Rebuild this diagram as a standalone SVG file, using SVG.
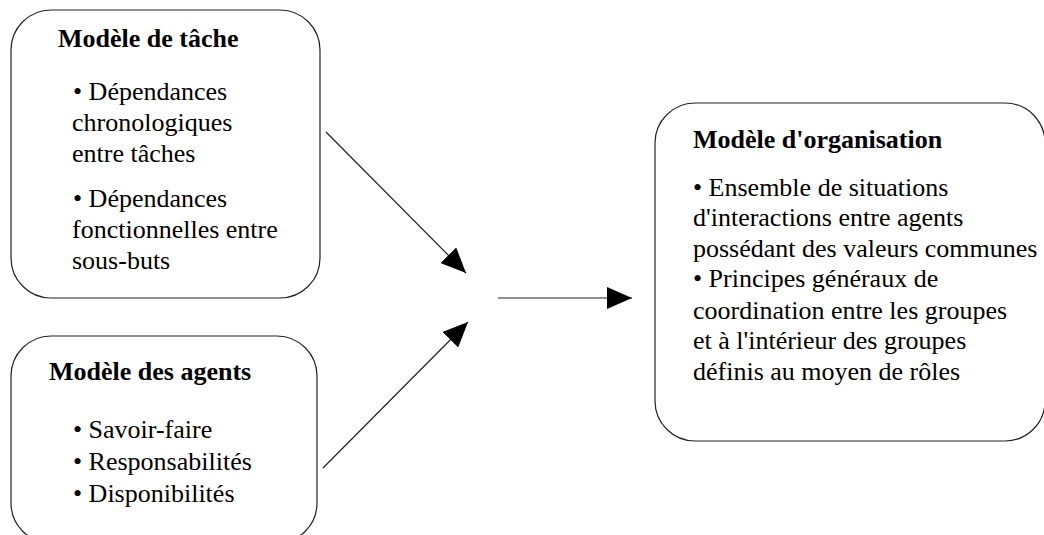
<svg xmlns="http://www.w3.org/2000/svg" width="1044" height="535" viewBox="0 0 1044 535">
<style>
.box{fill:#fff;stroke:#222;stroke-width:1.2}
.h{font-family:"Liberation Serif","Times New Roman",serif;font-weight:bold;font-size:26px;fill:#000}
.t{font-family:"Liberation Serif","Times New Roman",serif;font-size:26px;fill:#000}
.c{stroke:#222;stroke-width:1.2;fill:none;marker-end:url(#ah)}
</style>
<defs>
<marker id="ah" viewBox="0 0 25 22" markerWidth="25" markerHeight="22" markerUnits="userSpaceOnUse" refX="25" refY="11" orient="auto">
<path d="M0,0 L25,11 L0,22 Z" fill="#000"/>
</marker>
</defs>
<rect width="1044" height="535" fill="#fff"/>
<g id="tache">
<rect class="box" x="11" y="10" width="309" height="288" rx="40" ry="40"/>
<text class="h" x="58" y="47">Modèle de tâche</text>
<text class="t" x="73" y="100">• Dépendances</text>
<text class="t" x="72" y="131">chronologiques</text>
<text class="t" x="72" y="162">entre tâches</text>
<text class="t" x="73" y="207">• Dépendances</text>
<text class="t" x="72" y="238">fonctionnelles entre</text>
<text class="t" x="72" y="269">sous-buts</text>
</g>
<g id="agents">
<rect class="box" x="11" y="336" width="306" height="207" rx="40" ry="40"/>
<text class="h" x="49" y="380">Modèle des agents</text>
<text class="t" x="73" y="438">• Savoir-faire</text>
<text class="t" x="73" y="470">• Responsabilités</text>
<text class="t" x="73" y="502">• Disponibilités</text>
</g>
<g id="organisation">
<rect class="box" x="655" y="103" width="390" height="338" rx="40" ry="40"/>
<text class="h" x="693" y="148">Modèle d'organisation</text>
<text class="t" x="693" y="196">• Ensemble de situations</text>
<text class="t" x="693" y="226">d'interactions entre agents</text>
<text class="t" x="693" y="257">possédant des valeurs communes</text>
<text class="t" x="693" y="287">• Principes généraux de</text>
<text class="t" x="693" y="319">coordination entre les groupes</text>
<text class="t" x="693" y="349">et à l'intérieur des groupes</text>
<text class="t" x="693" y="380">définis au moyen de rôles</text>
</g>
<g id="connectors">
<line class="c" x1="326" y1="132" x2="466" y2="273"/>
<line class="c" x1="323" y1="468" x2="468" y2="322"/>
<line class="c" x1="498" y1="298" x2="632" y2="298"/>
</g>
</svg>
